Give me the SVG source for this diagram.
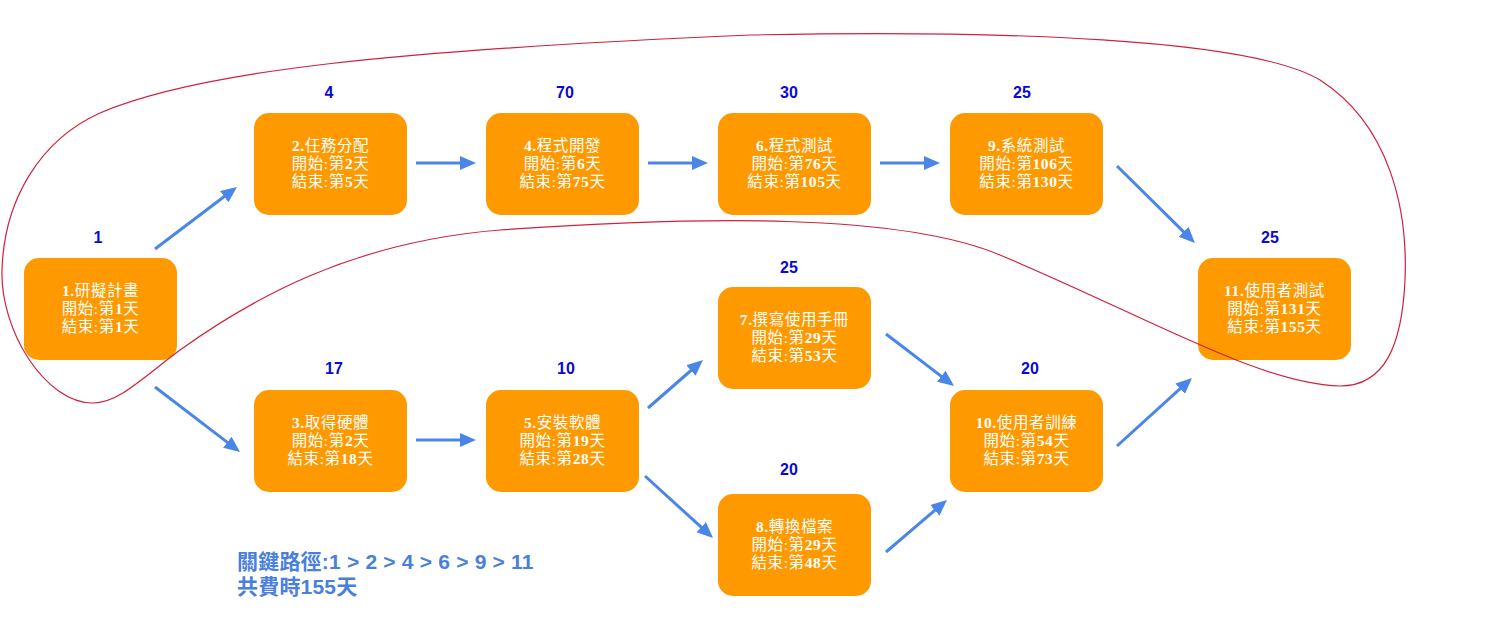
<svg xmlns="http://www.w3.org/2000/svg" width="1500" height="628" viewBox="0 0 1500 628">
<style>
.box{fill:#ff9900;}
.t{fill:#ffffff;font-family:"Liberation Serif","Noto Sans CJK TC",serif;font-size:15.5px;letter-spacing:0.6px;text-anchor:middle;}
.b{font-weight:bold;}
.num{fill:#0a0ad2;font-family:"Liberation Sans",Arial,sans-serif;font-size:16px;font-weight:bold;text-anchor:middle;}
.arr{stroke:#4a86e8;stroke-width:3;fill:none;marker-end:url(#ah);}
.note{fill:#4a7fdc;font-family:"Liberation Sans","Noto Sans CJK TC",sans-serif;font-size:21px;letter-spacing:0.2px;font-weight:bold;}
</style>
<defs>
<marker id="ah" markerUnits="userSpaceOnUse" markerWidth="18" markerHeight="16" refX="3" refY="7" orient="auto">
<path d="M0,0 L16,7 L0,14 Z" fill="#4a86e8"/>
</marker>
</defs>
<rect width="1500" height="628" fill="#ffffff"/>

<g id="connectors">
<line class="arr" x1="155" y1="249" x2="226.6" y2="194.8"/>
<line class="arr" x1="155" y1="387" x2="229.7" y2="444.1"/>
<line class="arr" x1="416" y1="163" x2="463" y2="163"/>
<line class="arr" x1="648" y1="163" x2="695" y2="163"/>
<line class="arr" x1="880" y1="163" x2="927" y2="163"/>
<line class="arr" x1="1117" y1="166" x2="1185.7" y2="233.9"/>
<line class="arr" x1="416" y1="440" x2="463" y2="440"/>
<line class="arr" x1="648" y1="408" x2="693.2" y2="368.5"/>
<line class="arr" x1="645" y1="476" x2="703.4" y2="529.2"/>
<line class="arr" x1="886" y1="334" x2="943.7" y2="378.1"/>
<line class="arr" x1="886" y1="552" x2="937.1" y2="508.4"/>
<line class="arr" x1="1117" y1="446" x2="1182.4" y2="386.7"/>
</g>

<g id="n1">
<rect class="box" x="24" y="258" width="153" height="102" rx="15"/>
<text class="num" x="98" y="243">1</text>
<text class="t" x="100.5" y="296"><tspan class="b">1.</tspan>研擬計畫</text>
<text class="t" x="100.5" y="314">開始:第<tspan class="b">1</tspan>天</text>
<text class="t" x="100.5" y="332">結束:第<tspan class="b">1</tspan>天</text>
</g>
<g id="n2">
<rect class="box" x="254" y="113" width="153" height="102" rx="15"/>
<text class="num" x="329" y="98">4</text>
<text class="t" x="330.5" y="151"><tspan class="b">2.</tspan>任務分配</text>
<text class="t" x="330.5" y="169">開始:第<tspan class="b">2</tspan>天</text>
<text class="t" x="330.5" y="187">結束:第<tspan class="b">5</tspan>天</text>
</g>
<g id="n4">
<rect class="box" x="486" y="113" width="153" height="102" rx="15"/>
<text class="num" x="565" y="98">70</text>
<text class="t" x="562.5" y="151"><tspan class="b">4.</tspan>程式開發</text>
<text class="t" x="562.5" y="169">開始:第<tspan class="b">6</tspan>天</text>
<text class="t" x="562.5" y="187">結束:第<tspan class="b">75</tspan>天</text>
</g>
<g id="n6">
<rect class="box" x="718" y="113" width="153" height="102" rx="15"/>
<text class="num" x="789" y="98">30</text>
<text class="t" x="794.5" y="151"><tspan class="b">6.</tspan>程式測試</text>
<text class="t" x="794.5" y="169">開始:第<tspan class="b">76</tspan>天</text>
<text class="t" x="794.5" y="187">結束:第<tspan class="b">105</tspan>天</text>
</g>
<g id="n9">
<rect class="box" x="950" y="113" width="153" height="102" rx="15"/>
<text class="num" x="1022" y="98">25</text>
<text class="t" x="1026.5" y="151"><tspan class="b">9.</tspan>系統測試</text>
<text class="t" x="1026.5" y="169">開始:第<tspan class="b">106</tspan>天</text>
<text class="t" x="1026.5" y="187">結束:第<tspan class="b">130</tspan>天</text>
</g>
<g id="n11">
<rect class="box" x="1198" y="258" width="153" height="102" rx="15"/>
<text class="num" x="1270" y="243">25</text>
<text class="t" x="1274.5" y="296"><tspan class="b">11.</tspan>使用者測試</text>
<text class="t" x="1274.5" y="314">開始:第<tspan class="b">131</tspan>天</text>
<text class="t" x="1274.5" y="332">結束:第<tspan class="b">155</tspan>天</text>
</g>
<g id="n3">
<rect class="box" x="254" y="390" width="153" height="102" rx="15"/>
<text class="num" x="334" y="374">17</text>
<text class="t" x="330.5" y="428"><tspan class="b">3.</tspan>取得硬體</text>
<text class="t" x="330.5" y="446">開始:第<tspan class="b">2</tspan>天</text>
<text class="t" x="330.5" y="464">結束:第<tspan class="b">18</tspan>天</text>
</g>
<g id="n5">
<rect class="box" x="486" y="390" width="153" height="102" rx="15"/>
<text class="num" x="566" y="374">10</text>
<text class="t" x="562.5" y="428"><tspan class="b">5.</tspan>安裝軟體</text>
<text class="t" x="562.5" y="446">開始:第<tspan class="b">19</tspan>天</text>
<text class="t" x="562.5" y="464">結束:第<tspan class="b">28</tspan>天</text>
</g>
<g id="n7">
<rect class="box" x="718" y="287" width="153" height="102" rx="15"/>
<text class="num" x="789" y="273">25</text>
<text class="t" x="794.5" y="325"><tspan class="b">7.</tspan>撰寫使用手冊</text>
<text class="t" x="794.5" y="343">開始:第<tspan class="b">29</tspan>天</text>
<text class="t" x="794.5" y="361">結束:第<tspan class="b">53</tspan>天</text>
</g>
<g id="n8">
<rect class="box" x="718" y="494" width="153" height="102" rx="15"/>
<text class="num" x="789" y="475">20</text>
<text class="t" x="794.5" y="532"><tspan class="b">8.</tspan>轉換檔案</text>
<text class="t" x="794.5" y="550">開始:第<tspan class="b">29</tspan>天</text>
<text class="t" x="794.5" y="568">結束:第<tspan class="b">48</tspan>天</text>
</g>
<g id="n10">
<rect class="box" x="950" y="390" width="153" height="102" rx="15"/>
<text class="num" x="1030" y="374">20</text>
<text class="t" x="1026.5" y="428"><tspan class="b">10.</tspan>使用者訓練</text>
<text class="t" x="1026.5" y="446">開始:第<tspan class="b">54</tspan>天</text>
<text class="t" x="1026.5" y="464">結束:第<tspan class="b">73</tspan>天</text>
</g>

<path id="critical-loop" d="M93,403 C45,403 0,330 2,270 C4,200 40,140 100,113 C200,70 400,50 750,35 C1000,30 1250,38 1320,80 C1390,125 1408,210 1405,280 C1402,345 1385,386 1340,386 C1260,384 1150,318 1000,255 C900,213 700,216 500,230 C350,242 250,300 180,350 C140,380 118,403 93,403 Z" fill="none" stroke="#d0213a" stroke-width="1.2"/>

<g id="legend">
<text class="note" x="237" y="569">關鍵路徑:1 &gt; 2 &gt; 4 &gt; 6 &gt; 9 &gt; 11</text>
<text class="note" x="237" y="594">共費時155天</text>
</g>
</svg>
